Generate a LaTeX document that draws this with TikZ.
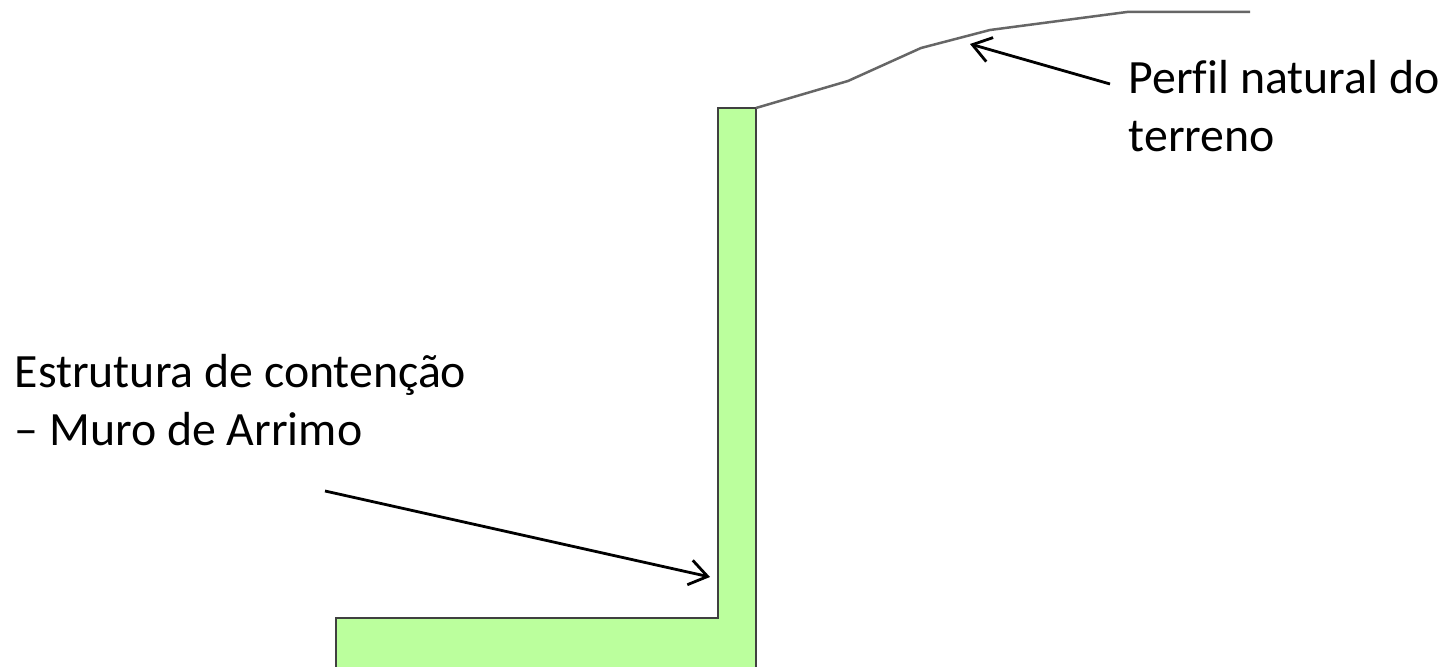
\documentclass[tikz,border=0pt]{standalone}
\usepackage{fontspec}
\setmainfont[RawFeature={-liga}]{Carlito}
\usetikzlibrary{arrows.meta}
\tikzset{
  muro/.style={draw=black!75, fill=wallgreen, line width=0.25mm},
  perfil/.style={draw=black!60, line width=0.25mm},
  seta/.style={draw=black, line width=0.28mm, -{Straight Barb[length=1.8mm,width=2.5mm,line width=0.28mm]}},
  rotulo/.style={anchor=north west, inner sep=0pt, align=left, font=\fontsize{13.6pt}{16.3pt}\selectfont}
}
\definecolor{wallgreen}{RGB}{187,255,157}
\begin{document}
\begin{tikzpicture}
        \useasboundingbox (0.0, 0.0) rectangle (14.43, 6.67);
        \fill [white] (0.0, 0.0) rectangle (14.43, 6.67);
        \draw [muro] (3.36, -0.1) -- (3.36, 0.49) -- (7.18, 0.49) -- (7.18, 5.59) -- (7.56, 5.59) -- (7.56, -0.1);
        \draw [perfil] (7.56, 5.59) -- (8.48, 5.86) -- (9.21, 6.19) -- (9.90, 6.37) -- (11.27, 6.55) -- (12.50, 6.55);
        \node [rotulo] (perfilnatural) at (11.28, 6.07) {Perfil natural do\\terreno};
        \node [rotulo] (estrutura) at (0.14, 3.13) {Estrutura de contenção\\– Muro de Arrimo};
        \coordinate (perfilinicio) at (11.10, 5.83);
        \coordinate (perfilfim) at (9.70, 6.23);
        \coordinate (muroinicio) at (3.25, 1.76);
        \coordinate (murofim) at (7.10, 0.90);
        \draw [seta] (perfilinicio) -- (perfilfim);
        \draw [seta] (muroinicio) -- (murofim);
      \end{tikzpicture}
\end{document}
